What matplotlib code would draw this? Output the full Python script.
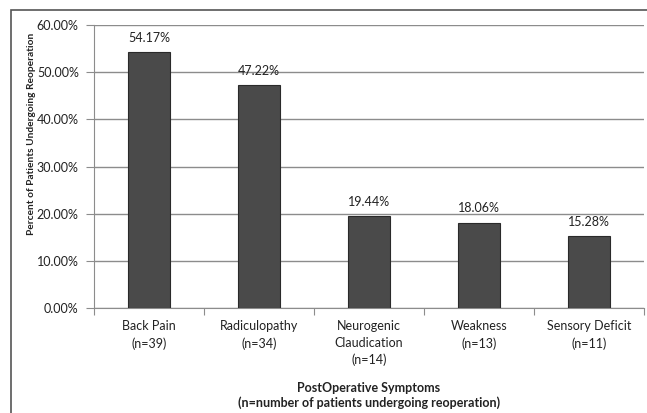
import numpy as np
import matplotlib
matplotlib.use("Agg")
import matplotlib.pyplot as plt
from matplotlib.patches import Rectangle

plt.rcParams['font.family'] = ['Lato', 'DejaVu Sans']

# data
categories = ["Back Pain\n(n=39)", "Radiculopathy\n(n=34)", "Neurogenic\nClaudication\n(n=14)",
              "Weakness\n(n=13)", "Sensory Deficit\n(n=11)"]
percents = [54.17, 47.22, 19.44, 18.06, 15.28]
yticks = [0, 10, 20, 30, 40, 50, 60]

fig = plt.figure(figsize=(6.47, 4.13), dpi=100)
ax = fig.add_axes([94/647, 1-308/413, 550/647, 283/413])

x = np.arange(len(categories))
ax.bar(x, percents, width=0.39, color='#4a4a4a', edgecolor='#2a2a2a', linewidth=0.8, zorder=3)

for xi, v in zip(x, percents):
    ax.annotate("%.2f%%" % v, (xi, v), xytext=(0, 6), textcoords='offset points',
                ha='center', va='bottom', fontsize=9, color='#222222')

ax.set_xlim(-0.5, len(categories) - 0.5)
ax.set_ylim(0, 60)
ax.set_yticks(yticks)
ax.set_yticklabels(["%.2f%%" % t for t in yticks], fontsize=9, color='#222222')
ax.yaxis.grid(True, color='#8c8c8c', linewidth=1, zorder=0)

# category boundary ticks, labels at centres
ax.set_xticks(np.arange(len(categories) + 1) - 0.5)
ax.set_xticklabels([])
ax.set_xticks(x, minor=True)
ax.set_xticklabels(categories, minor=True, fontsize=9, color='#222222', linespacing=1.45)
ax.tick_params(axis='x', which='minor', length=0, pad=9)
ax.tick_params(axis='x', which='major', length=5, color='#8c8c8c')
ax.tick_params(axis='y', length=6, color='#8c8c8c', pad=5)

for s in ['top', 'right']:
    ax.spines[s].set_visible(False)
for s in ['left', 'bottom']:
    ax.spines[s].set_color('#8c8c8c')

ax.set_xlabel("PostOperative Symptoms\n(n=number of patients undergoing reoperation)",
              fontsize=9, fontweight='bold', color='#222222', labelpad=11, linespacing=1.25)
ax.set_ylabel("Percent of Patients Undergoing Reoperation", fontsize=7.3,
              fontweight='bold', color='#222222')
ax.yaxis.set_label_coords(-0.106, 0.615)

# outer chart border
fig.patches.append(Rectangle((11/647, -0.1), 2, 1 - 10/413 + 0.1, fill=False,
                             edgecolor='#555555', linewidth=1.2, transform=fig.transFigure))

fig.savefig("out.png", dpi=100)
